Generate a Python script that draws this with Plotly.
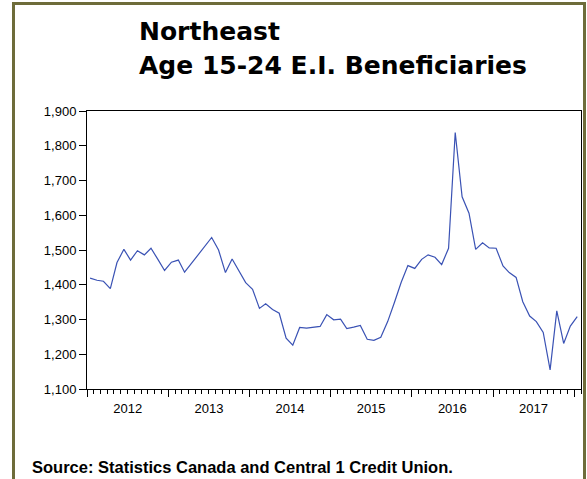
import pandas as pd
import plotly.graph_objects as go

# monthly E.I. beneficiaries, age 15-24, Northeast region, Jan 2012 - Jan 2018
start_month = "2012-01-01"
beneficiaries = [
    1419, 1413, 1410, 1389, 1464, 1502, 1471, 1498, 1486, 1505, 1473, 1441,
    1465, 1471, 1436, 1461, 1488, 1512, 1536, 1500, 1435, 1474, 1440, 1406,
    1387, 1332, 1345, 1329, 1318, 1246, 1226, 1277, 1275, 1277, 1280, 1314,
    1299, 1301, 1274, 1278, 1283, 1243, 1240, 1249, 1294, 1348, 1407, 1455,
    1447, 1473, 1486, 1479, 1458, 1505, 1838, 1653, 1606, 1502, 1521, 1506,
    1505, 1454, 1435, 1421, 1351, 1310, 1294, 1263, 1155, 1325, 1231, 1281,
    1308,
]
title_lines = ["Northeast", "Age 15-24 E.I. Beneficiaries"]
source_note = "Source: Statistics Canada and Central 1 Credit Union."

# put each observation in the middle of its month so year ticks fall on boundaries
months = pd.date_range(start_month, periods=len(beneficiaries), freq="MS") + pd.Timedelta(days=14)

FONT = "Liberation Sans, Arial, sans-serif"
W, H = 587, 479
L, R, T, B = 87, 6, 111, 90
pw, ph = W - L - R, H - T - B


def px(x):
    return (x - L) / pw


def py(y):
    return (H - B - y) / ph


fig = go.Figure(go.Scatter(
    x=months, y=beneficiaries, mode="lines",
    line=dict(color="#3a52b4", width=1.2),
    hoverinfo="x+y",
))

fig.update_layout(
    width=W, height=H,
    margin=dict(l=L, r=R, t=T, b=B),
    paper_bgcolor="white", plot_bgcolor="white",
    showlegend=False,
    font=dict(family=FONT, color="black"),
)

fig.update_xaxes(
    range=["2012-01-01", "2018-02-01"],
    tick0="2012-01-01", dtick="M12", tickformat="%Y", ticklabelmode="period",
    ticks="outside", ticklen=7, tickcolor="black", tickwidth=1,
    minor=dict(dtick="M1", ticks="outside", ticklen=4, tickcolor="black"),
    showgrid=False, zeroline=False,
    showline=True, linecolor="black", linewidth=1, mirror=True,
    tickfont=dict(size=13, family=FONT, color="black"),
)
fig.update_yaxes(
    range=[1100, 1900], dtick=100, tickformat=",",
    ticks="outside", ticklen=7, tickcolor="black",
    showgrid=False, zeroline=False,
    showline=True, linecolor="black", linewidth=1, mirror=True,
    tickfont=dict(size=13, family=FONT, color="black"),
)

# olive frame around the whole graphic
fig.add_shape(type="rect", xref="paper", yref="paper",
              x0=px(13.5), x1=px(584.5), y0=py(490), y1=py(3.5),
              line=dict(color="#6e6c3a", width=3), layer="below")

title_font = dict(size=25, family="DejaVu Sans, sans-serif", color="black")
fig.add_annotation(text="<b>%s</b>" % title_lines[0], xref="paper", yref="paper",
                   x=px(137), y=py(31.5), xanchor="left", yanchor="middle",
                   showarrow=False, font=title_font)
fig.add_annotation(text="<b>%s</b>" % title_lines[1], xref="paper", yref="paper",
                   x=px(137), y=py(66), xanchor="left", yanchor="middle",
                   showarrow=False, font=title_font)
fig.add_annotation(text="<b>%s</b>" % source_note, xref="paper", yref="paper",
                   x=px(30), y=py(467), xanchor="left", yanchor="middle",
                   showarrow=False, font=dict(size=16.5, family=FONT))

# the page's default body margin would push the chart 8px off its spot
fig.write_html("out.html", config={"displayModeBar": False},
               post_script="document.body.style.margin='0px';")
